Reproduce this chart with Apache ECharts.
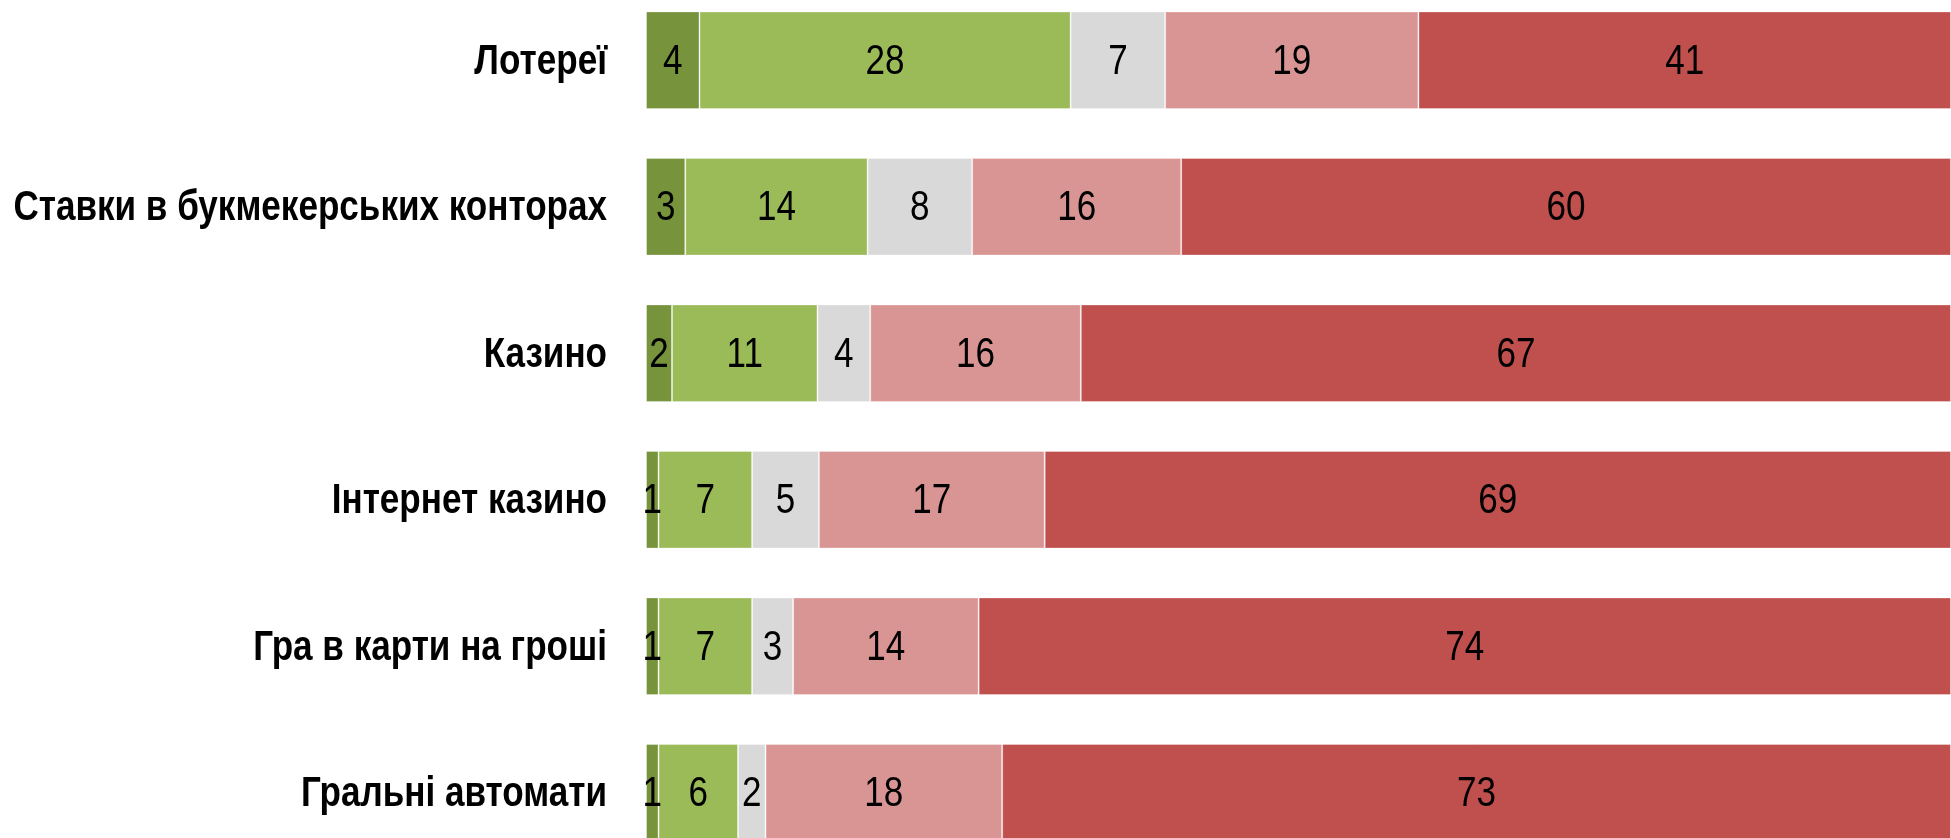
<!DOCTYPE html>
<html>
<head>
<meta charset="utf-8">
<script src="https://cdn.jsdelivr.net/npm/echarts@6/dist/echarts.min.js"></script>
<style>
  html, body { margin: 0; padding: 0; background: #fff; overflow: hidden; width: 1951px; height: 838px; }
  /* chart box is a bit taller than the page so the outer bands get cut like in the original */
  #chart { position: absolute; left: 0; top: -13px; width: 1951px; height: 879px; }
</style>
</head>
<body>
<div id="chart"></div>
<script>
// categories, top to bottom
const categories = ['Лотереї', 'Ставки в букмекерських конторах', 'Казино', 'Інтернет казино', 'Гра в карти на гроші', 'Гральні автомати']

// segment shares (% of the row)
const strongYes = [4.10, 3.01, 1.99, 0.96, 0.96, 0.96]
const ratherYes = [28.44, 13.97, 11.15, 7.17, 7.17, 6.09]
const hardToSay = [7.24, 8.01, 4.04, 5.12, 3.14, 2.11]
const ratherNo = [19.41, 16.02, 16.14, 17.30, 14.22, 18.13]
const strongNo = [40.81, 58.99, 66.68, 69.45, 74.51, 72.71]

// numbers printed on the segments
const strongYesLabels = [4, 3, 2, 1, 1, 1]
const ratherYesLabels = [28, 14, 11, 7, 7, 6]
const hardToSayLabels = [7, 8, 4, 5, 3, 2]
const ratherNoLabels = [19, 16, 16, 17, 14, 18]
const strongNoLabels = [41, 60, 67, 69, 74, 73]

const seriesNames = ['Так', 'Скоріше так', 'Важко сказати', 'Скоріше ні', 'Ні']
const seriesData = [strongYes, ratherYes, hardToSay, ratherNo, strongNo]
const seriesLabels = [strongYesLabels, ratherYesLabels, hardToSayLabels, ratherNoLabels, strongNoLabels]
const colors = ['#77933C', '#9BBB59', '#D9D9D9', '#D99594', '#C0504D']

// no narrow font installed -> squeeze Liberation Sans (Arial metrics) like Arial Narrow
const FONT = '"Liberation Sans", Arial, sans-serif'
const NARROW = 0.835
const FONT_SIZE = 42

// value label items: [segment start, segment end, category index, label]
const labelItems = []
categories.forEach((c, i) => {
  let acc = 0
  seriesData.forEach((arr, k) => {
    labelItems.push([acc, acc + arr[i], i, seriesLabels[k][i]])
    acc += arr[i]
  })
})

const chart = echarts.init(document.getElementById('chart'))

const barSeries = seriesData.map((arr, k) => ({
  name: seriesNames[k],
  type: 'bar',
  stack: 'all',
  barCategoryGap: '33.3%',
  data: arr,
  itemStyle: {
    color: colors[k],
    borderColor: 'rgba(255,255,255,0.35)',
    borderWidth: 1
  },
  silent: true
}))

// value labels drawn centered on each segment
const valueLabels = {
  type: 'custom',
  silent: true,
  z: 10,
  data: labelItems,
  renderItem(params, api) {
    const s = api.coord([api.value(0), api.value(2)])
    const e = api.coord([api.value(1), api.value(2)])
    return {
      type: 'text',
      x: (s[0] + e[0]) / 2,
      y: s[1] + 2,
      scaleX: NARROW,
      style: {
        text: String(api.value(3)),
        fontFamily: FONT,
        fontSize: FONT_SIZE,
        fill: '#000',
        align: 'center',
        verticalAlign: 'middle'
      }
    }
  }
}

// category names left of the bars
const categoryLabels = {
  type: 'custom',
  silent: true,
  z: 10,
  data: categories.map((c, i) => [0, i]),
  renderItem(params, api) {
    const p = api.coord([0, api.value(1)])
    return {
      type: 'text',
      x: p[0] - 39,
      y: p[1] + 2,
      scaleX: NARROW,
      style: {
        text: categories[params.dataIndex],
        fontFamily: FONT,
        fontWeight: 'bold',
        fontSize: FONT_SIZE,
        fill: '#000',
        align: 'right',
        verticalAlign: 'middle'
      }
    }
  }
}

const option = {
  animation: false,
  grid: {
    left: 646,
    right: 0,
    top: 0,
    bottom: 0,
    containLabel: false
  },
  xAxis: {
    type: 'value',
    min: 0,
    max: 100,
    show: false
  },
  yAxis: {
    type: 'category',
    inverse: true,
    data: categories,
    axisLine: { show: false },
    axisTick: { show: false },
    axisLabel: { show: false }
  },
  series: [...barSeries, valueLabels, categoryLabels]
}

chart.setOption(option)
</script>
</body>
</html>
